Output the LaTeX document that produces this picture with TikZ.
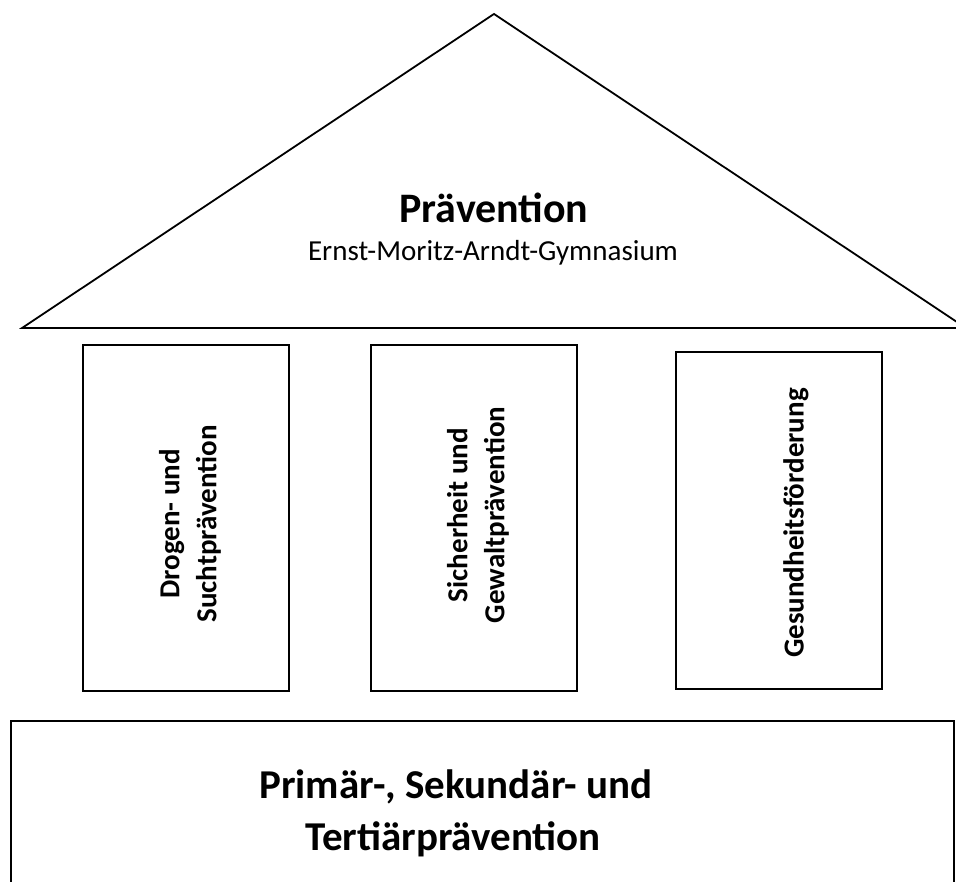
\documentclass[tikz,border=0pt]{standalone}
\usepackage{fontspec}
\setmainfont{Carlito}
\usetikzlibrary{positioning}

\begin{document}
\begin{tikzpicture}[x=1pt,y=-1pt,line width=1.8pt,
    pillarbox/.style={draw,line width=1.6pt},
    pillartext/.style={rotate=90,align=center,inner sep=0pt,
      font=\fontsize{29}{37}\selectfont\bfseries},
    bigtext/.style={anchor=base,inner sep=0pt,
      font=\fontsize{41}{52}\selectfont\bfseries}]
  \useasboundingbox (0,0) rectangle (956,882);
  \clip (0,0) rectangle (956,882);
  % roof
  \draw (22,328) -- (494,14) -- (966,328) -- cycle;
  \node[anchor=base,inner sep=0pt,font=\fontsize{42}{50}\selectfont\bfseries]
    (title) at (494,223) {Prävention};
  \node[anchor=base,inner sep=0pt,font=\fontsize{29}{35}\selectfont]
    (school) at (493,261) {Ernst-Moritz-Arndt-Gymnasium};
  % pillars
  \draw[pillarbox] (83,345) rectangle (289,691);
  \draw[pillarbox] (371,345) rectangle (577,691);
  \draw[pillarbox] (676,352) rectangle (882,689);
  \node[pillartext] (drugs) at (190,524) {Drogen- und\\ Suchtprävention};
  \node[pillartext] (safety) at (478,515) {Sicherheit und\\ Gewaltprävention};
  \node[pillartext] (health) at (796,523) {Gesundheitsförderung};
  % base
  \draw (11,900) -- (11,721) -- (954,721) -- (954,900);
  \node[bigtext] (levels) at (456,798) {Primär-, Sekundär- und};
  \node[bigtext] (tertiary) at (453,850) {Tertiärprävention};
\end{tikzpicture}
\end{document}
